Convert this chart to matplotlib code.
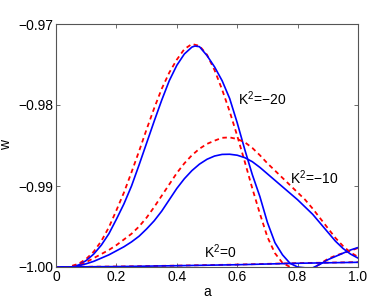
import matplotlib
matplotlib.use("Agg")
import matplotlib.pyplot as plt

plt.rcParams['font.family'] = ['Liberation Sans', 'DejaVu Sans']
plt.rcParams['font.size'] = 10
plt.rcParams['mathtext.fontset'] = 'custom'
plt.rcParams['mathtext.rm'] = 'Liberation Sans'

# K^2 = -20, solid (blue) and dashed (red)
a_k20_blue = [0.0, 0.05, 0.075, 0.1, 0.125, 0.15, 0.175, 0.2, 0.225, 0.25, 0.275, 0.3,
              0.325, 0.35, 0.375, 0.4, 0.425, 0.45, 0.46, 0.475, 0.5, 0.525, 0.55, 0.575,
              0.6, 0.625, 0.65, 0.675, 0.7, 0.725, 0.75, 0.775, 0.8, 0.825, 0.85, 0.875,
              0.9, 0.925, 0.95, 0.975, 1.0]
w_k20_blue = [-1.0, -1.0, -0.99975, -0.9992, -0.9984, -0.9973, -0.9959, -0.9941, -0.9922,
              -0.9900, -0.9874, -0.9847, -0.9820, -0.9794, -0.9770, -0.9751, -0.9737,
              -0.97285, -0.97272, -0.9728, -0.9739, -0.9753, -0.9770, -0.9792, -0.9822,
              -0.9855, -0.9886, -0.9913, -0.9945, -0.9970, -0.9985, -0.99955, -1.0,
              -1.0001, -1.0001, -0.99965, -0.9991, -0.9987, -0.9983, -0.9979, -0.9976]

a_k20_red = [0.0, 0.04, 0.075, 0.1, 0.125, 0.15, 0.175, 0.2, 0.225, 0.25, 0.275, 0.3,
             0.325, 0.35, 0.375, 0.4, 0.425, 0.45, 0.475, 0.5, 0.525, 0.55, 0.575, 0.6,
             0.625, 0.65, 0.675, 0.7, 0.725, 0.75, 0.775, 0.8, 0.825, 0.85, 0.875, 0.9,
             0.925, 0.95, 0.975, 1.0]
w_k20_red = [-1.0, -1.0, -0.9996, -0.9990, -0.9981, -0.9968, -0.9951, -0.9930, -0.9908,
             -0.9883, -0.9857, -0.9830, -0.9804, -0.9780, -0.9760, -0.9744, -0.9731,
             -0.97247, -0.9727, -0.9738, -0.9757, -0.9781, -0.9808, -0.9838, -0.9870,
             -0.9903, -0.9934, -0.9963, -0.9983, -0.9995, -1.0, -1.0002, -1.0003,
             -1.0002, -0.9996, -0.9990, -0.9986, -0.9983, -0.9980, -0.99765]

# K^2 = -10
a_k10_blue = [0.0, 0.05, 0.075, 0.1, 0.125, 0.15, 0.175, 0.2, 0.225, 0.25, 0.275, 0.3,
              0.325, 0.35, 0.375, 0.4, 0.425, 0.45, 0.475, 0.5, 0.525, 0.55, 0.575, 0.6,
              0.625, 0.65, 0.675, 0.7, 0.725, 0.75, 0.775, 0.8, 0.825, 0.85, 0.875, 0.9,
              0.925, 0.95, 0.975, 1.0]
w_k10_blue = [-1.0, -1.0, -0.99985, -0.9996, -0.9993, -0.9989, -0.9985, -0.9980, -0.9975,
              -0.9969, -0.9962, -0.9953, -0.9943, -0.9931, -0.9917, -0.9903, -0.9891,
              -0.9881, -0.9873, -0.9867, -0.9863, -0.9861, -0.98608, -0.9862, -0.9865,
              -0.9870, -0.9877, -0.9885, -0.9893, -0.9901, -0.9909, -0.9917, -0.9926,
              -0.9935, -0.9946, -0.9957, -0.9968, -0.9977, -0.9984, -0.9989]

a_k10_red = [0.0, 0.04, 0.075, 0.1, 0.125, 0.15, 0.175, 0.2, 0.225, 0.25, 0.275, 0.3,
             0.325, 0.35, 0.375, 0.4, 0.425, 0.45, 0.475, 0.5, 0.525, 0.55, 0.575, 0.6,
             0.625, 0.65, 0.675, 0.7, 0.725, 0.75, 0.775, 0.8, 0.825, 0.85, 0.875, 0.9,
             0.925, 0.95, 0.975, 1.0]
w_k10_red = [-1.0, -1.0, -0.9998, -0.9994, -0.9989, -0.9984, -0.9979, -0.9973, -0.9966,
             -0.9959, -0.9950, -0.9939, -0.9926, -0.9912, -0.9898, -0.9884, -0.9872,
             -0.9862, -0.9854, -0.9848, -0.9844, -0.98405, -0.98400, -0.9842, -0.9846,
             -0.9853, -0.9862, -0.9872, -0.9881, -0.9890, -0.9899, -0.9908, -0.9917,
             -0.9928, -0.9940, -0.9952, -0.9964, -0.9974, -0.9982, -0.99875]

# K^2 = 0
a_k0 = [0.0, 0.2, 0.4, 0.6, 0.8, 1.0]
w_k0_blue = [-1.0, -0.99995, -0.99984, -0.99972, -0.99954, -0.99942]
w_k0_red = [-1.0, -0.99994, -0.99983, -0.99970, -0.99952, -0.99940]

labels = ["K$^{\\mathrm{2}}$=\u221220", "K$^{\\mathrm{2}}$=\u221210", "K$^{\\mathrm{2}}$=0"]
label_pos = [(0.603, -0.97926), (0.775, -0.98901), (0.49, -0.99815)]

x_ticks = [0, 0.2, 0.4, 0.6, 0.8, 1.0]
x_ticklabels = ["0", "0.2", "0.4", "0.6", "0.8", "1.0"]
y_ticks = [-1.0, -0.99, -0.98, -0.97]
y_ticklabels = ["\u22121.00", "\u22120.99", "\u22120.98", "\u22120.97"]

fig = plt.figure(figsize=(3.71, 3.0), dpi=100)
ax = fig.add_axes([0.151, 0.11, 0.814, 0.81])

solid = dict(color='#0000ff', lw=1.2, ls='-')
dashed = dict(color='#ff0000', lw=1.3, ls=(0, (2.5, 2)))

ax.plot(a_k20_red, w_k20_red, **dashed)
ax.plot(a_k20_blue, w_k20_blue, **solid)
ax.plot(a_k10_red, w_k10_red, **dashed)
ax.plot(a_k10_blue, w_k10_blue, **solid)
ax.plot(a_k0, w_k0_red, **dashed)
ax.plot(a_k0, w_k0_blue, **solid)

for txt, (x, y) in zip(labels, label_pos):
    ax.text(x, y, txt, fontsize=10, va='center', ha='left')

ax.set_xlim(0, 1)
ax.set_ylim(-1.0, -0.97)
ax.set_xticks(x_ticks)
ax.set_xticklabels(x_ticklabels)
ax.set_yticks(y_ticks)
ax.set_yticklabels(y_ticklabels)
ax.tick_params(direction='in', top=True, right=True, length=3, width=0.6,
               color='#555555', pad=2, labelsize=10)
for s in ax.spines.values():
    s.set_color('#555555')
    s.set_linewidth(0.8)

ax.set_xlabel('a', labelpad=1)
ax.set_ylabel('w', labelpad=4)

fig.savefig('out.png', dpi=100)
